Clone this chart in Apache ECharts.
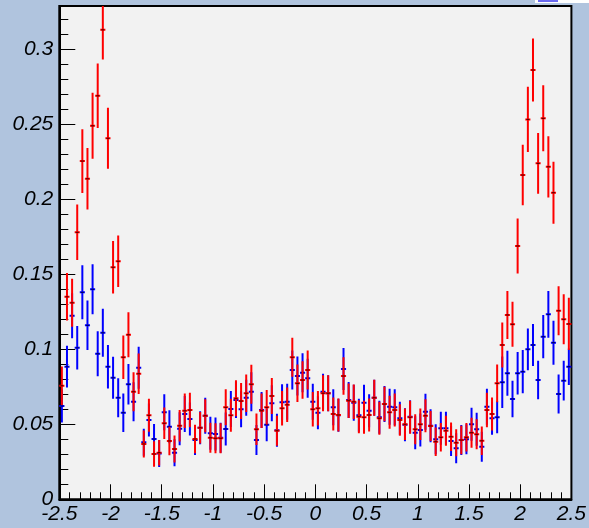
<!DOCTYPE html>
<html>
<head>
<meta charset="utf-8">
<script src="https://cdn.jsdelivr.net/npm/echarts@6/dist/echarts.min.js"></script>
<style>
html,body{margin:0;padding:0;background:#b0c4de;}
#chart{width:589px;height:528px;}
</style>
</head>
<body>
<div id="chart"></div>
<script>
// Histogram binning
const xMin = -2.5, xMax = 2.5, nBins = 100;
const yMin = 0, yMax = 0.3289;

const xTickLabels = ['-2.5','-2','-1.5','-1','-0.5','0','0.5','1','1.5','2','2.5'];
const yTickLabels = ['0','0.05','0.1','0.15','0.2','0.25','0.3'];

// Red histogram (bin contents)
const redValues = [
 0.0757,0.135,0.131,0.178,0.2255,0.2137,0.249,0.269,0.313,0.2407,
 0.1547,0.1587,0.0947,0.1097,0.0717,0.0837,0.0369,0.056,0.0302,0.0311,
 0.0507,0.0389,0.0335,0.049,0.059,0.0595,0.0402,0.0477,0.0557,0.041,
 0.0407,0.0407,0.0613,0.056,0.0673,0.0655,0.0707,0.0767,0.0467,0.059,
 0.0613,0.0689,0.0457,0.0607,0.063,0.0947,0.0773,0.0795,0.0862,0.06,
 0.0607,0.0707,0.0707,0.0569,0.0562,0.0822,0.0657,0.065,0.0551,0.0547,
 0.0562,0.0677,0.054,0.0635,0.058,0.0595,0.0529,0.05,0.0547,0.0467,
 0.05,0.0557,0.0489,0.0384,0.0413,0.0457,0.0417,0.0377,0.0395,0.0413,
 0.0444,0.0433,0.039,0.0595,0.0569,0.0773,0.1029,0.1229,0.1167,0.1689,
 0.2162,0.2533,0.2862,0.224,0.254,0.2217,0.2044,0.1257,0.12,0.1169
];
const redErrors = [
 0.0128,0.0158,0.016,0.0185,0.0213,0.0205,0.022,0.0215,0.0198,0.0203,
 0.0175,0.0172,0.0145,0.015,0.013,0.0135,0.009,0.011,0.0085,0.0085,
 0.0105,0.0095,0.009,0.0105,0.0115,0.0115,0.0095,0.0105,0.011,0.01,
 0.01,0.01,0.012,0.011,0.012,0.012,0.0125,0.013,0.0105,0.0115,
 0.0115,0.012,0.01,0.0115,0.0115,0.013,0.0125,0.0125,0.013,0.0115,
 0.0115,0.012,0.012,0.011,0.011,0.0125,0.0115,0.0115,0.011,0.011,
 0.011,0.012,0.011,0.0115,0.011,0.011,0.0105,0.0105,0.011,0.01,
 0.0105,0.011,0.01,0.0095,0.0095,0.01,0.0095,0.009,0.0095,0.0095,
 0.01,0.01,0.0095,0.0115,0.011,0.0126,0.015,0.016,0.015,0.0183,
 0.0202,0.0217,0.021,0.0202,0.022,0.0204,0.0206,0.0163,0.0167,0.0174
];

// Blue histogram (bin contents)
const blueValues = [
 0.0622,0.0884,0.1224,0.101,0.138,0.116,0.14,0.097,0.111,0.0884,
 0.081,0.0677,0.0577,0.0767,0.065,0.0877,0.038,0.0529,0.0402,0.0305,
 0.058,0.0484,0.031,0.047,0.0569,0.0535,0.0395,0.0477,0.0557,0.044,
 0.0435,0.041,0.0469,0.0602,0.0662,0.06,0.0677,0.0717,0.0395,0.0595,
 0.0497,0.064,0.046,0.0647,0.065,0.0862,0.0822,0.0844,0.0807,0.065,
 0.0577,0.0717,0.0707,0.0613,0.056,0.0869,0.0662,0.0644,0.056,0.0644,
 0.059,0.0677,0.0547,0.0635,0.0617,0.0613,0.054,0.0497,0.0551,0.0444,
 0.0462,0.0584,0.049,0.04,0.0473,0.0473,0.0389,0.034,0.0395,0.04,
 0.05,0.0467,0.0351,0.0617,0.054,0.0547,0.078,0.084,0.0669,0.084,
 0.0851,0.1,0.1029,0.0795,0.1084,0.1233,0.1044,0.0702,0.0791,0.0884
];
const blueErrors = [
 0.011,0.0139,0.015,0.0145,0.018,0.0165,0.0167,0.015,0.016,0.0145,
 0.014,0.013,0.0128,0.0135,0.013,0.014,0.009,0.011,0.01,0.009,
 0.012,0.011,0.009,0.011,0.012,0.011,0.01,0.011,0.012,0.011,
 0.011,0.01,0.011,0.012,0.012,0.012,0.012,0.013,0.01,0.012,
 0.011,0.012,0.011,0.012,0.012,0.013,0.013,0.013,0.013,0.012,
 0.011,0.012,0.012,0.012,0.011,0.014,0.012,0.012,0.011,0.012,
 0.011,0.012,0.011,0.012,0.012,0.012,0.011,0.011,0.011,0.011,
 0.011,0.012,0.011,0.01,0.011,0.011,0.01,0.01,0.01,0.01,
 0.011,0.011,0.01,0.012,0.011,0.0106,0.0172,0.015,0.0122,0.0142,
 0.0144,0.0139,0.014,0.0128,0.0144,0.0156,0.0147,0.013,0.0133,0.0122
];

const binWidth = (xMax - xMin) / nBins;
function histData(vals, errs) {
  return vals.map((v, i) => [xMin + (i + 0.5) * binWidth, v, errs[i]]);
}

function makeRender(color) {
  return function (params, api) {
    const x = api.value(0), y = api.value(1), e = api.value(2);
    const hw = binWidth / 2;
    const t = api.coord([x, y + e]);
    const b = api.coord([x, Math.max(y - e, 0)]);
    const l = api.coord([x - hw, y]);
    const r = api.coord([x + hw, y]);
    const c = api.coord([x, y]);
    return {
      type: 'group',
      children: [
        { type: 'line', shape: { x1: t[0], y1: t[1], x2: b[0], y2: b[1] }, style: { stroke: color, lineWidth: 2 } },
        { type: 'line', shape: { x1: l[0], y1: l[1], x2: r[0], y2: r[1] }, style: { stroke: color, lineWidth: 2 } },
        { type: 'line', shape: { x1: c[0] - 1.5, y1: c[1], x2: c[0] + 1.5, y2: c[1] }, style: { stroke: 'rgba(0,0,0,0.75)', lineWidth: 1 } }
      ]
    };
  };
}

const labelFont = { color: '#000', fontFamily: 'Liberation Sans', fontStyle: 'italic', fontSize: 21 };

function fmtX(v) {
  const k = Math.round((v - xMin) / 0.5);
  if (Math.abs((v - xMin) / 0.5 - k) > 1e-6) return '';
  return xTickLabels[k] !== undefined ? xTickLabels[k] : '';
}
function fmtY(v) {
  const k = Math.round((v - yMin) / 0.05);
  if (Math.abs((v - yMin) / 0.05 - k) > 1e-6) return '';
  return yTickLabels[k] !== undefined ? yTickLabels[k] : '';
}

const chart = echarts.init(document.getElementById('chart'), null, { renderer: 'canvas' });
chart.setOption({
  animation: false,
  backgroundColor: '#b0c4de',
  grid: {
    left: 59.3, right: 14.7, top: 6, bottom: 28.7,
    show: true, backgroundColor: '#f2f2f2', borderColor: '#000', borderWidth: 2
  },
  xAxis: [
    {
      type: 'value', min: xMin, max: xMax, interval: 0.1, position: 'bottom',
      axisLine: { show: true, onZero: false, lineStyle: { color: '#000', width: 2 } },
      axisTick: { show: true, inside: true, length: 7, lineStyle: { color: '#000', width: 1 } },
      axisLabel: { show: false }, splitLine: { show: false }
    },
    {
      type: 'value', min: xMin, max: xMax, interval: 0.5, position: 'bottom',
      axisLine: { show: false, onZero: false },
      axisTick: { show: true, inside: true, length: 15, lineStyle: { color: '#000', width: 1 } },
      axisLabel: Object.assign({ show: true, margin: 4, formatter: fmtX, showMinLabel: true, showMaxLabel: true }, labelFont),
      splitLine: { show: false }
    }
  ],
  yAxis: [
    {
      type: 'value', min: yMin, max: yMax, interval: 0.01, position: 'left',
      axisLine: { show: true, onZero: false, lineStyle: { color: '#000', width: 2 } },
      axisTick: { show: true, inside: true, length: 9, lineStyle: { color: '#000', width: 1 } },
      axisLabel: { show: false }, splitLine: { show: false }
    },
    {
      type: 'value', min: yMin, max: yMax, interval: 0.05, position: 'left',
      axisLine: { show: false, onZero: false },
      axisTick: { show: true, inside: true, length: 16, lineStyle: { color: '#000', width: 1 } },
      axisLabel: Object.assign({ show: true, margin: 6, formatter: fmtY, showMinLabel: true, showMaxLabel: true }, labelFont),
      splitLine: { show: false }
    }
  ],
  graphic: [
    { type: 'rect', left: 535, top: 0, shape: { width: 54, height: 3 }, style: { fill: '#ffffff' }, z: 100 },
    { type: 'rect', left: 538, top: 0, shape: { width: 20, height: 2 }, style: { fill: '#6a6af0' }, z: 101 }
  ],
  series: [
    {
      name: 'blue', type: 'custom', xAxisIndex: 0, yAxisIndex: 0, clip: true,
      renderItem: makeRender('#0000ff'), data: histData(blueValues, blueErrors), z: 2
    },
    {
      name: 'red', type: 'custom', xAxisIndex: 0, yAxisIndex: 0, clip: true,
      renderItem: makeRender('#ff0000'), data: histData(redValues, redErrors), z: 3
    }
  ]
});
</script>
</body>
</html>
